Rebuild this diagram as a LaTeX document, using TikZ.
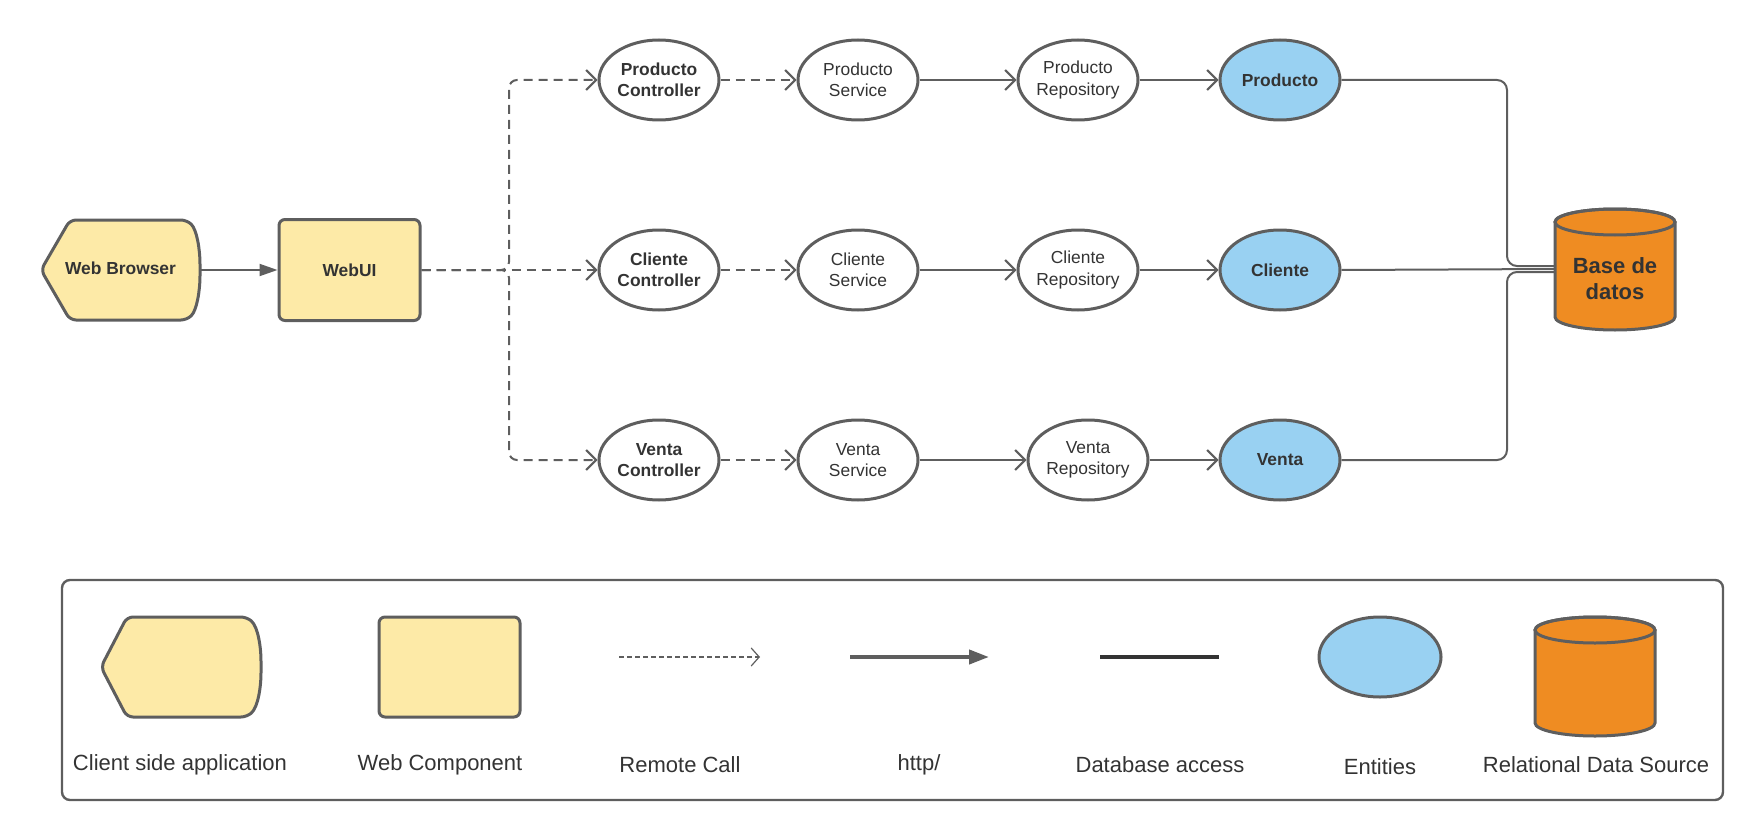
\documentclass[tikz,border=0pt]{standalone}
\usepackage{fontspec}
\setmainfont{Liberation Sans}
\usepackage{xcolor}
\usepackage{tikz}
\usetikzlibrary{calc}
\usetikzlibrary{shapes.geometric,arrows.meta}
\definecolor{amarillo}{HTML}{FDEAA7}
\definecolor{azul}{HTML}{99D1F2}
\definecolor{naranja}{HTML}{EF8C22}
\definecolor{borde}{HTML}{5E5E5E}
\definecolor{texto}{HTML}{333333}
\newcommand{\fnodo}{\fontsize{8.7}{10.7}\selectfont}
\newcommand{\fley}{\fontsize{11}{13}\selectfont}

\begin{document}
\begin{tikzpicture}[x=0.5pt,y=-0.5pt,
    forma/.style={draw=borde,line width=1.5pt,fill=amarillo,rounded corners=3pt},
    elipse/.style={ellipse,draw=borde,line width=1.5pt,minimum width=60pt,minimum height=40pt,inner sep=0pt,align=center,text=texto,font=\fnodo},
    entidad/.style={elipse,fill=azul,font=\fnodo\bfseries},
    remota/.style={draw=borde,line width=1pt,dash pattern=on 4.5pt off 3pt,-{Straight Barb[length=5pt,width=10pt]}},
    llamada/.style={draw=borde,line width=1pt,-{Straight Barb[length=5pt,width=10pt]}},
    http/.style={draw=borde,line width=1pt,-{Triangle[length=9pt,width=6pt]}},
    bdlinea/.style={draw=borde,line width=1pt,rounded corners=5pt},
    leyenda/.style={text=texto,font=\fley}]
    \useasboundingbox (0,0) rectangle (1762,840);
    %GRID
    %\draw[lightgray,step=100] (0,0) grid (1762,840);
    %NAVEGADOR
    \draw[forma] (41,270) -- (70,220) -- (187,220) .. controls (197,230) and (200,250) .. (200,270) .. controls (200,290) and (197,310) .. (187,320) -- (70,320) -- cycle;
    \node[text=texto,font=\fnodo\bfseries,minimum width=79.5pt] (wb) at (120.5,268) {Web Browser};
    %WEBUI
    \node[forma,rectangle,minimum width=70.5pt,minimum height=50.5pt,text=texto,font=\fnodo\bfseries] (webui) at (349.5,270) {WebUI};
    \draw[http] (wb.east |- webui.west) -- (webui.west);
    %CONTROLADORES
    \node[elipse,font=\fnodo\bfseries] (pc) at (659,80) {Producto\\Controller};
    \node[elipse,font=\fnodo\bfseries] (cc) at (659,270) {Cliente\\Controller};
    \node[elipse,font=\fnodo\bfseries] (vc) at (659,460) {Venta\\Controller};
    %SERVICIOS
    \node[elipse] (ps) at (858,80) {Producto\\Service};
    \node[elipse] (cs) at (858,270) {Cliente\\Service};
    \node[elipse] (vs) at (858,460) {Venta\\Service};
    %REPOSITORIOS
    \node[elipse] (pr) at (1078,80) {Producto\\Repository};
    \node[elipse] (cr) at (1078,270) {Cliente\\Repository};
    \node[elipse] (vr) at (1088,460) {Venta\\Repository};
    %ENTIDADES
    \node[entidad] (ep) at (1280,80) {Producto};
    \node[entidad] (ec) at (1280,270) {Cliente};
    \node[entidad] (ev) at (1280,460) {Venta};
    %LLAMADAS REMOTAS
    \coordinate (br) at (509,270);
    \draw[remota,rounded corners=4pt] (webui.east) -- (br) |- (pc.west);
    \draw[remota] (webui.east) -- (cc.west);
    \draw[remota,rounded corners=4pt] (webui.east) -- (br) |- (vc.west);
    \draw[remota] (pc.east) -- (ps.west);
    \draw[remota] (cc.east) -- (cs.west);
    \draw[remota] (vc.east) -- (vs.west);
    %LLAMADAS
    \draw[llamada] (ps.east) -- (pr.west);
    \draw[llamada] (cs.east) -- (cr.west);
    \draw[llamada] (vs.east) -- (vr.west);
    \draw[llamada] (pr.east) -- (ep.west);
    \draw[llamada] (cr.east) -- (ec.west);
    \draw[llamada] (vr.east) -- (ev.west);
    %BASE DE DATOS
    \draw[draw=borde,line width=1.5pt,fill=naranja] (1555,222) -- (1555,317) arc[start angle=180,end angle=0,x radius=60,y radius=13] -- (1675,222) arc[start angle=0,end angle=-180,x radius=60,y radius=13] -- cycle;
    \draw[draw=borde,line width=1.5pt] (1615,222) ellipse [x radius=60,y radius=13];
    \node[text=texto,font=\fontsize{11}{13}\selectfont\bfseries,align=center] (db) at (1615,279) {Base de\\datos};
    \coordinate (dbin) at (1555,269);
    \coordinate (bus) at (1507,269);
    \draw[bdlinea] (ep.east) -| ([yshift=1.5pt]bus) -- ([yshift=1.5pt]dbin);
    \draw[bdlinea] (ec.east) -- (dbin);
    \draw[bdlinea] (ev.east) -| ([yshift=-1.5pt]bus) -- ([yshift=-1.5pt]dbin);
    %LEYENDA
    \draw[draw=borde,line width=1.2pt,rounded corners=4pt] (62,580) rectangle (1723,800);
    \draw[forma] (101,667) -- (127,617) -- (247,617) .. controls (258,627) and (261,647) .. (261,667) .. controls (261,687) and (258,707) .. (247,717) -- (127,717) -- cycle;
    \node[forma,rectangle,minimum width=70.5pt,minimum height=50pt] (lw) at (449.5,667) {};
    \coordinate (r1) at (619,657);
    \coordinate (r2) at (760,657);
    \draw[draw=borde,line width=0.6pt,dash pattern=on 2.5pt off 1.5pt,-{Straight Barb[length=4pt,width=9pt]}] (r1) -- (r2);
    \coordinate (h1) at (850,657);
    \coordinate (h2) at (989,657);
    \draw[draw=borde,line width=2pt,-{Triangle[length=10pt,width=7pt]}] (h1) -- (h2);
    \coordinate (d1) at (1100,657);
    \coordinate (d2) at (1219,657);
    \draw[draw=texto,line width=2pt] (d1) -- (d2);
    \node[entidad,minimum width=61pt] (le) at (1380,657) {};
    \draw[draw=borde,line width=1.5pt,fill=naranja] (1535,630) -- (1535,723) arc[start angle=180,end angle=0,x radius=60,y radius=13] -- (1655,630) arc[start angle=0,end angle=-180,x radius=60,y radius=13] -- cycle;
    \draw[draw=borde,line width=1.5pt] (1595,630) ellipse [x radius=60,y radius=13];
    \node[leyenda] (t1) at (180,765) {Client side application};
    \node[leyenda] (t2) at (440,765) {Web Component};
    \node[leyenda] (t3) at (680,765) {Remote Call};
    \node[leyenda] (t4) at (919,765) {http/};
    \node[leyenda] (t5) at (1160,765) {Database access};
    \node[leyenda] (t6) at (1380,767) {Entities};
    \node[leyenda] (t7) at (1596,765) {Relational Data Source};
\end{tikzpicture}
\end{document}
